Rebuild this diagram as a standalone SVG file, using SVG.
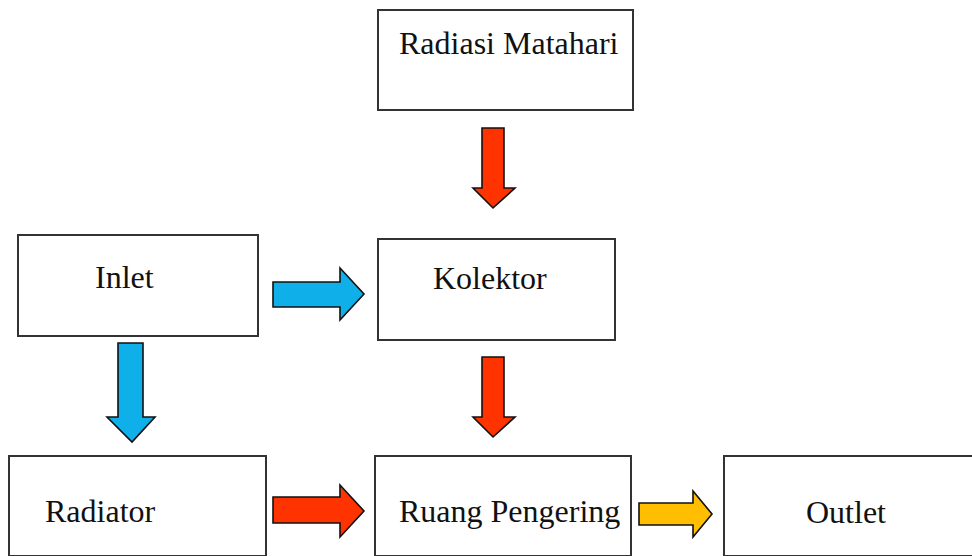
<svg xmlns="http://www.w3.org/2000/svg" width="972" height="556" viewBox="0 0 972 556">
  <style>
    .box { fill: #ffffff; stroke: #333333; stroke-width: 2; }
    .label { font-family: "Liberation Serif", "Times New Roman", serif; font-size: 32px; fill: #111111; }
    .arrow { stroke: #111111; stroke-width: 1.6; stroke-linejoin: miter; }
    .blue { fill: #0FAFEA; }
    .red { fill: #FF3300; }
    .yellow { fill: #FFBF00; }
  </style>
  <rect width="972" height="556" fill="#ffffff"/>

  <g id="radiasi-matahari">
    <rect class="box" x="378" y="10" width="255" height="100"/>
    <text class="label" x="399" y="54">Radiasi Matahari</text>
  </g>

  <g id="inlet">
    <rect class="box" x="18" y="235" width="240" height="101"/>
    <text class="label" x="95" y="288">Inlet</text>
  </g>

  <g id="kolektor">
    <rect class="box" x="378" y="239" width="237" height="101"/>
    <text class="label" x="433" y="289">Kolektor</text>
  </g>

  <g id="radiator">
    <rect class="box" x="9" y="456" width="257" height="100"/>
    <text class="label" x="45" y="522">Radiator</text>
  </g>

  <g id="ruang-pengering">
    <rect class="box" x="375" y="456" width="256" height="100"/>
    <text class="label" x="399" y="522">Ruang Pengering</text>
  </g>

  <g id="outlet">
    <rect class="box" x="724" y="456" width="260" height="100"/>
    <text class="label" x="806" y="523">Outlet</text>
  </g>

  <g id="connectors">
    <!-- Radiasi Matahari -> Kolektor -->
    <polygon class="arrow red" points="482,128 504,128 504,188 515,188 493,208 473,188 482,188"/>
    <!-- Inlet -> Kolektor -->
    <polygon class="arrow blue" points="273,282 340,282 340,268 364,294 340,320 340,307 273,307"/>
    <!-- Inlet -> Radiator -->
    <polygon class="arrow blue" points="118,343 143,343 143,417 155,417 132,442 107,417 118,417"/>
    <!-- Kolektor -> Ruang Pengering -->
    <polygon class="arrow red" points="482,357 504,357 504,417 515,417 493,437 473,417 482,417"/>
    <!-- Radiator -> Ruang Pengering -->
    <polygon class="arrow red" points="273,497 340,497 340,485 364,511 340,537 340,523 273,523"/>
    <!-- Ruang Pengering -> Outlet -->
    <polygon class="arrow yellow" points="639,503 693,503 693,491 712,514 693,537 693,525 639,525"/>
  </g>
</svg>
